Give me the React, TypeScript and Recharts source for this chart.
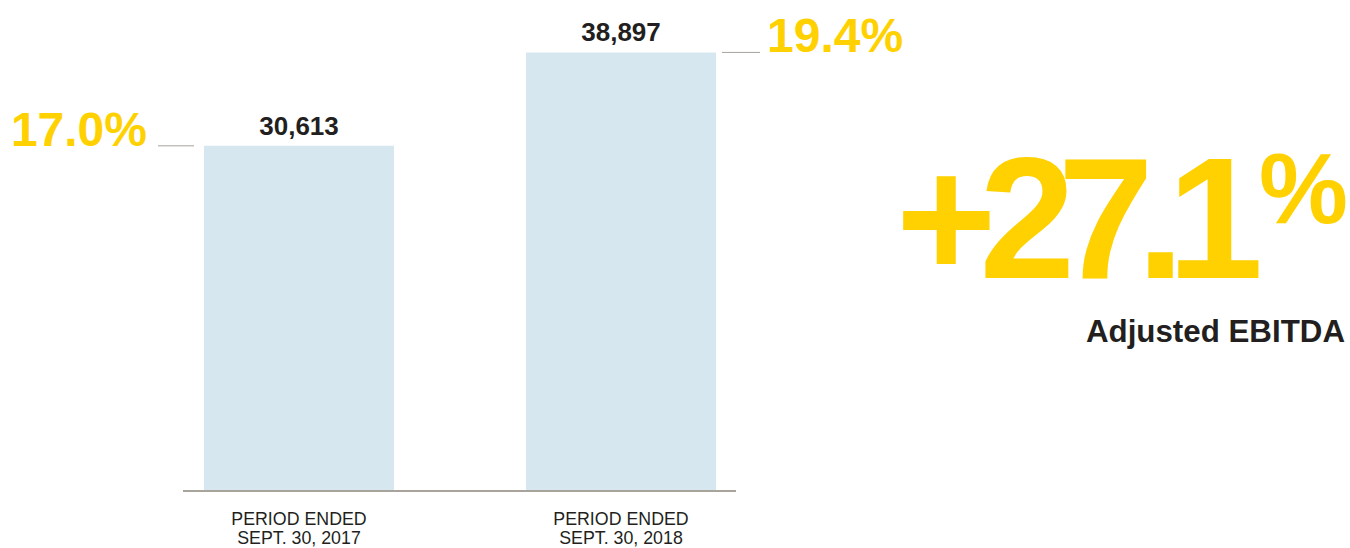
import { BarChart, Bar, XAxis, YAxis, LabelList } from 'recharts';

const periods = ['PERIOD ENDED|SEPT. 30, 2017', 'PERIOD ENDED|SEPT. 30, 2018'];
const ebitda = [30613, 38897];
const margins = ['17.0%', '19.4%'];
const growth = '+27.1';

const FONT = '"Liberation Sans", Arial, sans-serif';
const YELLOW = '#FFD100';
const INK = '#231F20';
const RULE = '#A8A39B';

const data = periods.map((p, i) => ({ period: p, value: ebitda[i], margin: margins[i] }));

function PeriodTick(props: any) {
  const { x, y, payload } = props;
  const lines = String(payload.value).split('|');
  return (
    <g>
      {lines.map((l, i) => (
        <text key={i} x={x} y={y + 26 + i * 19} textAnchor="middle" fontSize={17.8} fill={INK} fontFamily={FONT}>
          {l}
        </text>
      ))}
    </g>
  );
}

function MarginLabel(props: any) {
  const { x, y, width, index, value } = props;
  if (index === 0) {
    return (
      <g>
        <line x1={x - 46} x2={x - 10} y1={y} y2={y} stroke={RULE} strokeWidth={1} />
        <text x={x - 57} y={y} textAnchor="end" fontSize={48} fontWeight="bold" fill={YELLOW} fontFamily={FONT}>
          {value}
        </text>
      </g>
    );
  }
  return (
    <g>
      <line x1={x + width + 6} x2={x + width + 44} y1={y} y2={y} stroke={RULE} strokeWidth={1} />
      <text x={x + width + 51} y={y} textAnchor="start" fontSize={48} fontWeight="bold" fill={YELLOW} fontFamily={FONT}>
        {value}
      </text>
    </g>
  );
}

export default function App() {
  return (
    <div style={{ position: 'absolute', left: 0, top: 0, width: 1350, height: 548, background: '#fff' }}>
      <BarChart
        width={1350}
        height={548}
        data={data}
        margin={{ top: 40, right: 614, bottom: 0, left: 183 }}
        barSize={190}
      >
        <XAxis
          dataKey="period"
          axisLine={{ stroke: RULE, strokeWidth: 2 }}
          tickLine={false}
          tick={<PeriodTick />}
          interval={0}
          padding={{ left: -45, right: -46 }}
          height={57}
        />
        <YAxis hide domain={[0, 40000]} />
        <Bar dataKey="value" fill="#D6E7F0" isAnimationActive={false}>
          <LabelList
            dataKey="value"
            position="top"
            offset={11}
            formatter={(v: any) => Number(v).toLocaleString('en-US')}
            style={{ fontSize: 26, fontWeight: 'bold', fill: INK, fontFamily: FONT }}
          />
          <LabelList dataKey="margin" content={<MarginLabel />} />
        </Bar>
      </BarChart>
      <svg width={1350} height={548} style={{ position: 'absolute', left: 0, top: 0, pointerEvents: 'none' }}>
        <text x={896} y={278} fontSize={172} fontWeight="bold" fill={YELLOW} fontFamily={FONT} letterSpacing={-17}>
          {growth}
        </text>
        <text x={1259} y={223} fontSize={100} fontWeight="bold" fill={YELLOW} fontFamily={FONT}>
          %
        </text>
        <text x={1345} y={342} textAnchor="end" fontSize={31.3} fontWeight="bold" fill={INK} fontFamily={FONT}>
          Adjusted EBITDA
        </text>
      </svg>
    </div>
  );
}
